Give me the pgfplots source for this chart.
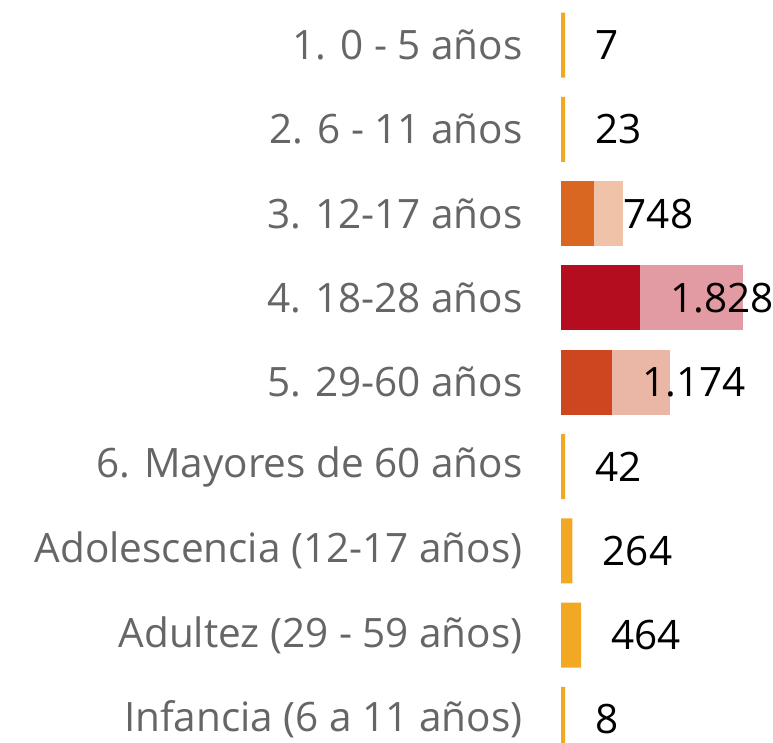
\documentclass[border=0pt]{standalone}
\usepackage{pgfplots}
\pgfplotsset{compat=1.18}
\usepackage{fontspec}
\setmainfont{Open Sans}
\definecolor{catgray}{HTML}{666666}
\definecolor{yel}{HTML}{F2A823}
\definecolor{orD}{HTML}{D96621}
\definecolor{orL}{HTML}{F0C3A8}
\definecolor{reD}{HTML}{B50D20}
\definecolor{reL}{HTML}{E39BA3}
\definecolor{rdD}{HTML}{CE4620}
\definecolor{rdL}{HTML}{EAB6A5}
\begin{document}
\begin{tikzpicture}
\useasboundingbox (0,0) rectangle (773bp,743bp);
\begin{axis}[
  at={(561bp,743bp)}, anchor=north west,
  scale only axis, width=212bp, height=743bp,
  xmin=0, xmax=4876, ymin=0.466, ymax=9.28,
  enlargelimits=false, y dir=reverse, clip=false,
  axis line style={draw=none}, tick style={draw=none},
  xtick=\empty,
  ytick={1,2,3,4,5,6,7,8,9},
  yticklabels={{1. 0 - 5 años},{2. 6 - 11 años},{3. 12-17 años},{4. 18-28 años},{5. 29-60 años},{6. Mayores de 60 años},{Adolescencia (12-17 años)},{Adultez (29 - 59 años)},{Infancia (6 a 11 años)}},
  yticklabel style={anchor=east, inner sep=0pt, xshift=-34bp, text=catgray, font=\fontsize{40.5bp}{43bp}\selectfont},
  xbar, bar width=0.771, bar shift=0pt,
  every node near coord/.style={anchor=west, inner sep=0pt, xshift=30bp, text=black, font=\fontsize{40.5bp}{43bp}\selectfont},
]
% light (total) bars
\addplot[fill=orL, draw=none] coordinates {(1420,3)};
\addplot[fill=reL, draw=none] coordinates {(4180,4)};
\addplot[fill=rdL, draw=none] coordinates {(2500,5)};
% dark / value bars
\addplot[fill=yel, draw=none, nodes near coords, point meta=explicit symbolic]
  coordinates {(92,1) [7] (92,2) [23] (92,6) [42] (264,7) [264] (464,8) [464] (92,9) [8]};
\addplot[fill=orD, draw=none, nodes near coords, point meta=explicit symbolic]
  coordinates {(748,3) [748]};
\addplot[fill=reD, draw=none, nodes near coords, point meta=explicit symbolic]
  coordinates {(1828,4) [1.828]};
\addplot[fill=rdD, draw=none, nodes near coords, point meta=explicit symbolic]
  coordinates {(1174,5) [1.174]};
\end{axis}
\end{tikzpicture}
\end{document}
